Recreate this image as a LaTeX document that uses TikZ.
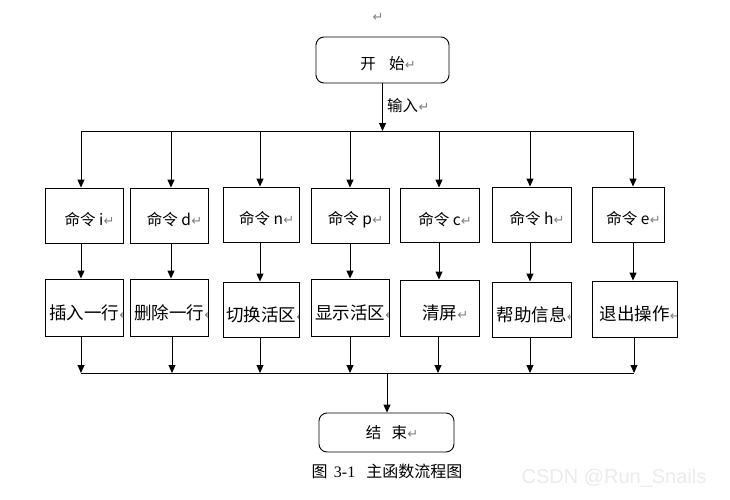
\documentclass[tikz,border=0pt]{standalone}
\usepackage{fontspec}
\setmainfont{Noto Sans CJK SC}
\newfontfamily\retfont{DejaVu Sans}
\newfontfamily\capnum{Liberation Serif}
\newfontfamily\wmfont{Liberation Sans}
\usetikzlibrary{arrows.meta,calc}
\newcommand\retglyph{\textcolor{black!50}{\retfont\fontsize{13}{14}\selectfont ↵}}
\newcommand\retm{\rlap{\hspace{0.3pt}\retglyph}}
\tikzset{
  arr/.style={-{Triangle[length=8pt,width=7pt]}, line width=0.9pt},
  ln/.style={line width=0.9pt},
  box/.style n args={3}{draw, line width=0.9pt, inner sep=0pt,
    path picture={\node[inner sep=0pt, font=\fontsize{#2}{#2}\selectfont]
      at ([yshift=#3]path picture bounding box.center) {#1};}},
  rbox/.style={rounded corners=8pt}
}
\begin{document}
\begin{tikzpicture}[x=1pt,y=-1pt]
\useasboundingbox (0,0) rectangle (730,500);

% top paragraph mark
\node[inner sep=0pt] (topret) at (378,17) {\retglyph};

% start / end
\node[box={开\hspace{0.85em}始\retm}{15.5}{-4pt}, rbox, minimum width=133pt, minimum height=46pt] (start) at (382.5,60) {};
\node[box={结\hspace{0.65em}束\retm}{15.5}{0pt}, rbox, minimum width=135pt, minimum height=39pt] (end) at (386.5,432.5) {};

% input label
\node[anchor=west, inner sep=0pt, font=\fontsize{15.5}{16}\selectfont] (lbl) at (387,106) {输入\retm};

% command row
\node[box={命令 i\retm}{15.5}{-4.5pt}, minimum width=78pt, minimum height=55pt] (ci) at (84,215.5) {};
\node[box={命令 d\retm}{15.5}{-4.5pt}, minimum width=78pt, minimum height=55pt] (cd) at (169,215.5) {};
\node[box={命令 n\retm}{15.5}{-4.5pt}, minimum width=76pt, minimum height=55pt] (cn) at (261,214.5) {};
\node[box={命令 p\retm}{15.5}{-4.5pt}, minimum width=78pt, minimum height=55pt] (cp) at (350,215.5) {};
\node[box={命令 c\retm}{15.5}{-4.5pt}, minimum width=79pt, minimum height=54pt] (cc) at (439.5,215) {};
\node[box={命令 h\retm}{15.5}{-4.5pt}, minimum width=79pt, minimum height=55pt] (ch) at (531.5,214.5) {};
\node[box={命令 e\retm}{15.5}{-4.5pt}, minimum width=72pt, minimum height=55pt] (ce) at (628,214.5) {};

% action row
\node[box={插入一行\retm}{17.5}{-5pt}, minimum width=78pt, minimum height=57pt] (ai) at (84,307.5) {};
\node[box={删除一行\retm}{17.5}{-5pt}, minimum width=78pt, minimum height=57pt] (ad) at (169,307.5) {};
\node[box={切换活区\retm}{17.5}{-5pt}, minimum width=76pt, minimum height=55pt] (an) at (261,309.5) {};
\node[box={显示活区\retm}{17.5}{-5pt}, minimum width=78pt, minimum height=57pt] (ap) at (350,307.5) {};
\node[box={清屏\retm}{17.5}{-5pt}, minimum width=79pt, minimum height=56pt] (ac) at (439.5,308) {};
\node[box={帮助信息\retm}{17.5}{-5pt}, minimum width=79pt, minimum height=55pt] (ah) at (531.5,309.5) {};
\node[box={退出操作\retm}{17.5}{-5pt}, minimum width=85pt, minimum height=56pt] (ae) at (634.5,309) {};

% bus coordinates
\coordinate (t1) at (81,131);  \coordinate (t2) at (171,131);
\coordinate (t3) at (260,131); \coordinate (t4) at (350,131);
\coordinate (t5) at (439,131); \coordinate (t6) at (530,131);
\coordinate (t7) at (633,131);
\coordinate (b1) at (81,373);  \coordinate (b2) at (172,373);
\coordinate (b3) at (260,373); \coordinate (b4) at (350,373);
\coordinate (b5) at (438,373); \coordinate (b6) at (530,373);
\coordinate (b7) at (634,373);
\coordinate (bm) at (387,373);

% start to top bus
\draw[arr] (start.south) -- (start.south |- t1);
\draw[ln] (t1) -- (t7);
\draw[ln] (b1) -- (b7);

\foreach \k/\c/\a in {1/ci/ai,2/cd/ad,3/cn/an,4/cp/ap,5/cc/ac,6/ch/ah,7/ce/ae}{
  \draw[arr] (t\k) -- (t\k |- \c.north);
  \draw[arr] (t\k |- \c.south) -- (t\k |- \a.north);
  \draw[arr] (b\k |- \a.south) -- (b\k);
}

\draw[arr] (bm) -- (bm |- end.north);

% caption
\node[inner sep=0pt, font=\fontsize{16}{18}\selectfont] (cap) at (387,471) {图\hspace{0.4em}{\capnum 3-1}\hspace{0.7em}主函数流程图};

% watermark
\node[inner sep=0pt, text=black!8, font=\wmfont\fontsize{20}{22}\selectfont] (wm) at (614,478) {CSDN @Run\_Snails};
\end{tikzpicture}
\end{document}
